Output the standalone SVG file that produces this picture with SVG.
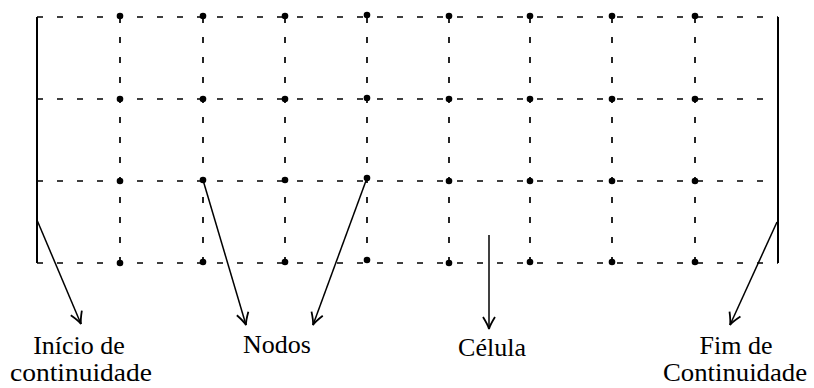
<svg xmlns="http://www.w3.org/2000/svg" width="814" height="388" viewBox="0 0 814 388">
<defs>
<style>
.grid{stroke:#000;stroke-width:1.7;stroke-dasharray:6 14;fill:none}
.bound{stroke:#000;stroke-width:2;fill:none}
.dot{fill:#000}
.arr{stroke:#000;stroke-width:1.5;fill:none;marker-end:url(#ah)}
.lbl{font-family:"Liberation Serif","Times New Roman",serif;font-size:26px;fill:#000;text-anchor:middle}
</style>
<marker id="ah" viewBox="-14 -8 16 16" markerWidth="16" markerHeight="16" refX="0" refY="0" orient="auto" markerUnits="userSpaceOnUse">
<path d="M-12,-6 Q-4,-1 0,0 Q-4,1 -12,6" stroke="#000" stroke-width="1.8" fill="none"/>
</marker>
</defs>
<rect width="814" height="388" fill="#fff"/>
<g id="grid">
<line class="grid" x1="37" y1="17" x2="778" y2="17"/>
<line class="grid" x1="37" y1="99" x2="778" y2="99"/>
<line class="grid" x1="37" y1="181" x2="778" y2="181"/>
<line class="grid" x1="37" y1="263" x2="778" y2="263"/>
<line class="grid" x1="120" y1="17" x2="120" y2="263"/>
<line class="grid" x1="203" y1="17" x2="203" y2="263"/>
<line class="grid" x1="285" y1="17" x2="285" y2="263"/>
<line class="grid" x1="367" y1="17" x2="367" y2="263"/>
<line class="grid" x1="449" y1="17" x2="449" y2="263"/>
<line class="grid" x1="530" y1="17" x2="530" y2="263"/>
<line class="grid" x1="612" y1="17" x2="612" y2="263"/>
<line class="grid" x1="695" y1="17" x2="695" y2="263"/>
</g>
<g id="boundary-start"><line class="bound" x1="37" y1="17" x2="37" y2="263"/></g>
<g id="boundary-end"><line class="bound" x1="778" y1="17" x2="778" y2="263"/></g>
<g id="nodes">
<circle class="dot" cx="120" cy="16" r="3.3"/><circle class="dot" cx="203" cy="16" r="3.3"/><circle class="dot" cx="285" cy="16" r="3.3"/><circle class="dot" cx="367" cy="15" r="3.3"/><circle class="dot" cx="449" cy="16" r="3.3"/><circle class="dot" cx="530" cy="16" r="3.3"/><circle class="dot" cx="612" cy="16" r="3.3"/><circle class="dot" cx="695" cy="16" r="3.3"/>
<circle class="dot" cx="120" cy="99" r="3.3"/><circle class="dot" cx="203" cy="99" r="3.3"/><circle class="dot" cx="285" cy="99" r="3.3"/><circle class="dot" cx="367" cy="98" r="3.3"/><circle class="dot" cx="449" cy="99" r="3.3"/><circle class="dot" cx="530" cy="99" r="3.3"/><circle class="dot" cx="612" cy="99" r="3.3"/><circle class="dot" cx="695" cy="99" r="3.3"/>
<circle class="dot" cx="120" cy="181" r="3.3"/><circle class="dot" cx="203" cy="180" r="3.3"/><circle class="dot" cx="285" cy="180" r="3.3"/><circle class="dot" cx="367" cy="178" r="3.3"/><circle class="dot" cx="449" cy="181" r="3.3"/><circle class="dot" cx="530" cy="181" r="3.3"/><circle class="dot" cx="612" cy="181" r="3.3"/><circle class="dot" cx="695" cy="181" r="3.3"/>
<circle class="dot" cx="120" cy="263" r="3.3"/><circle class="dot" cx="203" cy="262" r="3.3"/><circle class="dot" cx="285" cy="262" r="3.3"/><circle class="dot" cx="367" cy="260" r="3.3"/><circle class="dot" cx="449" cy="263" r="3.3"/><circle class="dot" cx="530" cy="262" r="3.3"/><circle class="dot" cx="612" cy="262" r="3.3"/><circle class="dot" cx="695" cy="262" r="3.3"/>
</g>
<g id="connectors">
<line class="arr" x1="37" y1="220" x2="81" y2="324"/>
<line class="arr" x1="203" y1="180" x2="246" y2="325"/>
<line class="arr" x1="367" y1="178" x2="313" y2="325"/>
<line class="arr" x1="489" y1="235" x2="489" y2="329"/>
<line class="arr" x1="777" y1="222" x2="730" y2="325"/>
</g>
<g id="label-inicio">
<text class="lbl" x="79" y="354">Início de</text>
<text class="lbl" x="81" y="381" textLength="142" lengthAdjust="spacingAndGlyphs">continuidade</text>
</g>
<g id="label-nodos"><text class="lbl" x="277" y="353">Nodos</text></g>
<g id="label-celula"><text class="lbl" x="492" y="356">Célula</text></g>
<g id="label-fim">
<text class="lbl" x="736" y="354">Fim de</text>
<text class="lbl" x="735" y="381" textLength="144" lengthAdjust="spacingAndGlyphs">Continuidade</text>
</g>
</svg>
